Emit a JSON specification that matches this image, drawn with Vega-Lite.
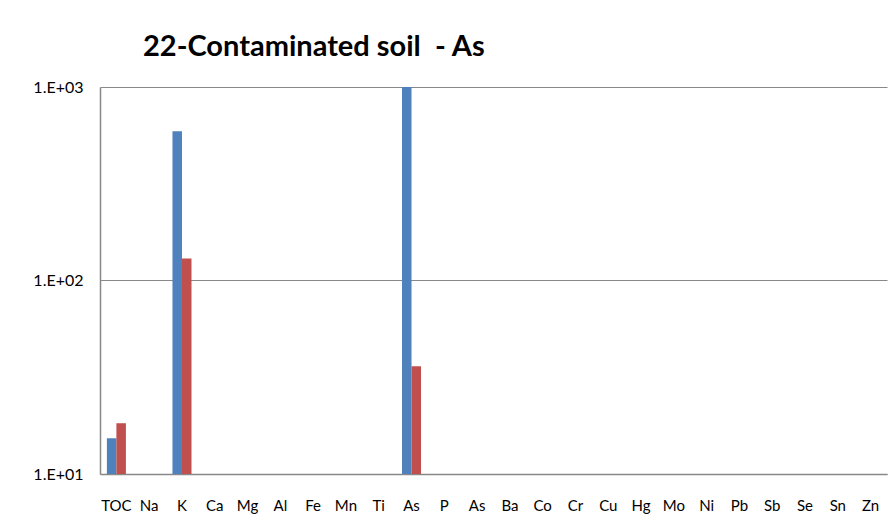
{
  "$schema": "https://vega.github.io/schema/vega-lite/v6.json",
  "width": 787,
  "height": 387,
  "autosize": {"type": "none"},
  "padding": {"left": 100, "top": 87, "right": 4, "bottom": 57},
  "background": "white",
  "title": {
    "text": "22-Contaminated soil\u00a0 - As",
    "anchor": "start",
    "frame": "group",
    "dx": 43,
    "offset": 17,
    "font": "Lato",
    "fontSize": 29,
    "fontWeight": "bold",
    "color": "black"
  },
  "data": {
    "values": [
      {"element": "TOC", "series": "A", "value": 15.3},
      {"element": "TOC", "series": "B", "value": 18.3},
      {"element": "K", "series": "A", "value": 590},
      {"element": "K", "series": "B", "value": 130},
      {"element": "As", "series": "A", "value": 1000},
      {"element": "As", "series": "B", "value": 36}
    ]
  },
  "mark": {"type": "bar", "clip": true},
  "encoding": {
    "x": {
      "field": "element",
      "type": "nominal",
      "sort": null,
      "scale": {
        "domain": ["TOC", "Na", "K", "Ca", "Mg", "Al", "Fe", "Mn", "Ti", "As", "P", "As2", "Ba", "Co", "Cr", "Cu", "Hg", "Mo", "Ni", "Pb", "Sb", "Se", "Sn", "Zn"],
        "paddingInner": 0.42,
        "paddingOuter": 0.21
      },
      "axis": {
        "title": null,
        "labelAngle": 0,
        "labelExpr": "datum.value == 'As2' ? 'As' : datum.value",
        "labelFont": "Lato",
        "labelFontSize": 15,
        "labelColor": "black",
        "labelPadding": 24,
        "ticks": false,
        "domainColor": "#888888",
        "domainWidth": 1.5,
        "grid": false
      }
    },
    "xOffset": {"field": "series", "type": "nominal", "scale": {"paddingInner": 0}},
    "y": {
      "field": "value",
      "type": "quantitative",
      "scale": {"type": "log", "domain": [10, 1000], "nice": false},
      "axis": {
        "title": null,
        "values": [10, 100, 1000],
        "labelExpr": "'1.E+0' + round(log(datum.value) / LN10)",
        "labelFont": "Lato",
        "labelFontSize": 16,
        "labelColor": "black",
        "labelPadding": 17,
        "ticks": false,
        "domainColor": "#888888",
        "domainWidth": 1.5,
        "gridColor": "#888888",
        "gridWidth": 1.2
      }
    },
    "y2": {"datum": 10},
    "color": {
      "field": "series",
      "type": "nominal",
      "scale": {"domain": ["A", "B"], "range": ["#4F81BD", "#C0504D"]},
      "legend": null
    }
  },
  "config": {"view": {"stroke": null}}
}
